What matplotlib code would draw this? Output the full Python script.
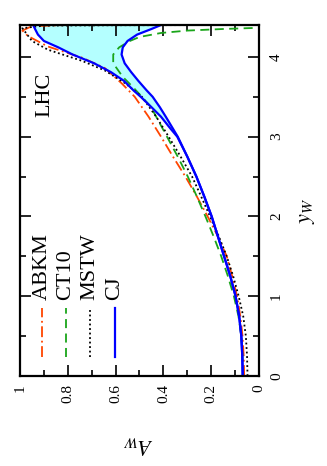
import numpy as np
import matplotlib
matplotlib.use('Agg')
import matplotlib.pyplot as plt

plt.rcParams['font.family'] = ['Liberation Serif', 'DejaVu Serif']
plt.rcParams['mathtext.fontset'] = 'stix'

# rapidity y_W and asymmetry A_W read from the (rotated) reference
yw_abkm = [0.0, 0.25, 0.5, 0.75, 1.0, 1.25, 1.5, 1.75, 2.0, 2.25, 2.5, 2.75, 3.0, 3.25, 3.5, 3.67,
           3.86, 3.99, 4.13, 4.26, 4.33, 4.385, 4.40, 4.42]
a_abkm = [0.062, 0.064, 0.069, 0.078, 0.092, 0.112, 0.135, 0.172, 0.215, 0.26, 0.308, 0.36, 0.41, 0.462,
          0.52, 0.575, 0.645, 0.74, 0.883, 0.966, 0.99, 0.95, 0.80, 0.5]

yw_ct10 = [0.0, 0.25, 0.5, 0.75, 1.0, 1.25, 1.5, 1.75, 2.0, 2.25, 2.5, 2.75, 3.0, 3.25, 3.37, 3.5, 3.62,
           3.75, 3.92, 4.03, 4.12, 4.2, 4.25, 4.3, 4.33, 4.35, 4.365, 4.38]
a_ct10 = [0.068, 0.069, 0.074, 0.086, 0.105, 0.13, 0.158, 0.19, 0.224, 0.26, 0.298, 0.34, 0.385, 0.43,
          0.452, 0.49, 0.527, 0.57, 0.61, 0.61, 0.585, 0.54, 0.5, 0.41, 0.3, 0.15, 0.0, -0.1]

yw_mstw = [0.0, 0.25, 0.5, 0.75, 1.0, 1.25, 1.5, 1.75, 2.0, 2.25, 2.5, 2.75, 3.0, 3.25, 3.5, 3.67,
           3.83, 3.95, 4.09, 4.2, 4.3, 4.36, 4.392, 4.397, 4.40]
a_mstw = [0.048, 0.05, 0.055, 0.066, 0.085, 0.108, 0.135, 0.168, 0.205, 0.242, 0.28, 0.328, 0.378,
          0.43, 0.49, 0.56, 0.645, 0.74, 0.883, 0.95, 0.975, 0.99, 0.9, 0.6, 0.05]

yw_cj = [0.0, 0.25, 0.5, 0.75, 1.0, 1.25, 1.5, 1.75, 2.0, 2.25, 2.5, 2.75, 3.0, 3.1, 3.25, 3.37, 3.5,
         3.58, 3.7, 3.81, 3.92, 4.03, 4.12, 4.2, 4.28, 4.35, 4.4]
a_cj_lo = [0.068, 0.07, 0.074, 0.083, 0.098, 0.12, 0.146, 0.172, 0.198, 0.229, 0.262, 0.3, 0.34,
           0.36, 0.39, 0.415, 0.445, 0.47, 0.505, 0.535, 0.562, 0.575, 0.57, 0.55, 0.51, 0.45, 0.41]
a_cj_hi = [0.068, 0.07, 0.074, 0.083, 0.098, 0.12, 0.146, 0.172, 0.198, 0.229, 0.262, 0.3, 0.342,
           0.37, 0.41, 0.45, 0.495, 0.525, 0.565, 0.62, 0.69, 0.78, 0.84, 0.9, 0.925, 0.937, 0.945]

labels = ['ABKM', 'CT10', 'MSTW', 'CJ']
colors = ['#ff4500', '#1aa51a', 'black', '#0000ff']
styles = [(0, (6, 2, 1, 2)), (0, (5, 3)), (0, (1, 1.5)), '-']

fig = plt.figure(figsize=(3.27, 4.66), dpi=100)
ax = fig.add_axes([20 / 327, 1 - 376 / 466, 239 / 327, 351 / 466])

ax.fill_betweenx(yw_cj, a_cj_lo, a_cj_hi, color='#b4ffff', lw=0)
ax.plot(a_abkm, yw_abkm, color=colors[0], ls=styles[0], lw=1.3)
ax.plot(a_ct10, yw_ct10, color=colors[1], ls=styles[1], lw=1.3)
ax.plot(a_mstw, yw_mstw, color=colors[2], ls=styles[2], lw=1.3)
ax.plot(a_cj_lo, yw_cj, color=colors[3], ls='-', lw=1.6)
ax.plot(a_cj_hi, yw_cj, color=colors[3], ls='-', lw=1.6)

ax.set_xlim(1, 0)
ax.set_ylim(0, 4.4)
ax.set_xticks([1, 0.8, 0.6, 0.4, 0.2, 0])
ax.set_xticklabels(['1', '0.8', '0.6', '0.4', '0.2', '0'])
ax.set_xticks(np.arange(0.1, 1.0, 0.2), minor=True)
ax.set_yticks([0, 1, 2, 3, 4])
ax.set_yticks([0.5, 1.5, 2.5, 3.5], minor=True)

ax.tick_params(which='both', direction='in', top=True, bottom=True, left=True, right=True,
               labelleft=False, labelright=True, width=1.2, labelsize=11)
ax.tick_params(which='major', length=8)
ax.tick_params(which='minor', length=4)
ax.tick_params(axis='x', labelrotation=90, pad=6)
ax.tick_params(axis='y', labelrotation=90, pad=8)
for t in ax.get_yticklabels():
    t.set_va('center')
for s in ax.spines.values():
    s.set_linewidth(1.6)

ax.set_xlabel(r'$A_W$', fontsize=16, rotation=180)
ax.xaxis.set_label_coords(0.49, -0.165)
ax.yaxis.set_label_position('right')
ax.set_ylabel(r'$y_W$', fontsize=16, rotation=90)
ax.yaxis.set_label_coords(1.165, 0.47)

ax.text(0.105, 0.80, 'LHC', transform=ax.transAxes, rotation=90,
        ha='center', va='center', fontsize=16)

leg_x = [0.092, 0.192, 0.293, 0.397]
for lx, lab, c, st in zip(leg_x, labels, colors, styles):
    ax.plot([lx, lx], [0.054, 0.194], transform=ax.transAxes, color=c, ls=st,
            lw=1.6 if lab == 'CJ' else 1.3)
    ax.text(lx, 0.217, lab, transform=ax.transAxes, rotation=90,
            ha='center', va='bottom', fontsize=16)

fig.savefig('out.png', dpi=100)
